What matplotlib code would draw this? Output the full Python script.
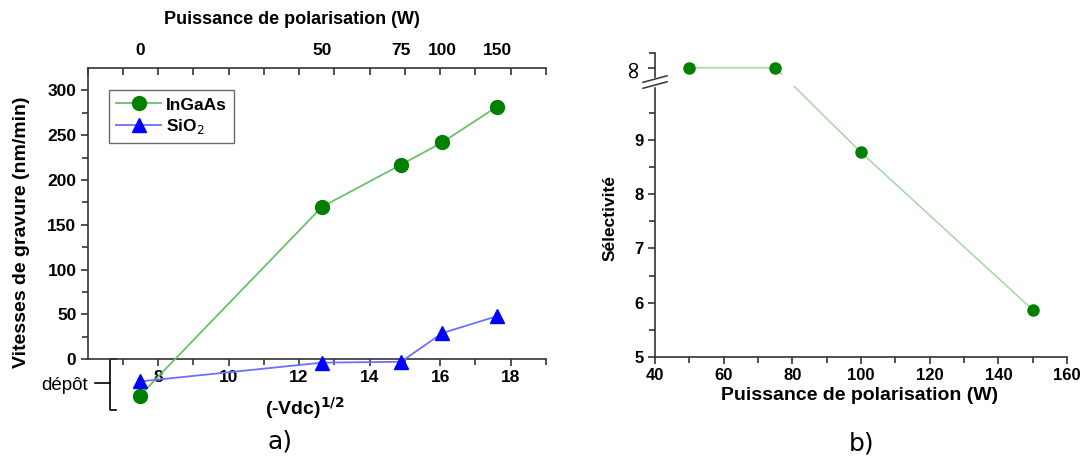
import numpy as np
import matplotlib
matplotlib.use("Agg")
from matplotlib import pyplot as plt
from matplotlib.ticker import FixedLocator, MultipleLocator

plt.rcParams['font.family'] = ['Liberation Sans', 'DejaVu Sans']

##-- data, panel a)
sqrt_vdc = [7.48, 12.65, 14.89, 16.06, 17.62]
power_labels = ['0', '50', '75', '100', '150']
ingaas = [-41, 170, 217, 242, 282]
sio2 = [-25, -4, -3, 29, 48]

##-- data, panel b)
power = [50, 75, 100, 150]
selectivity = [np.inf, np.inf, 8.77, 5.87]

INF_POS = 10.33  # where "infinity" sits on the broken axis

W, H = 1083, 459
fig = plt.figure(figsize=(W / 100, H / 100), dpi=100)

def box(x0, y0, x1, y1):
    # pixel box -> figure fraction
    return [x0 / W, 1 - y1 / H, (x1 - x0) / W, (y1 - y0) / H]

spine_col = '#333333'

########################################################################
# panel a)
ax = fig.add_axes(box(87.5, 68, 546, 412.8))
ax.set_xlim(6, 19)
ax.set_ylim(-60, 325)
ax.plot(sqrt_vdc, ingaas, color='#6cbf6c', lw=1.3, marker='o', ms=10,
        mfc='#008000', mec='#008000', label='InGaAs', clip_on=False, zorder=3)
ax.plot(sqrt_vdc, sio2, color='#6f6fff', lw=1.3, marker='^', ms=10,
        mfc='#0000ff', mec='#0000ff', label='SiO$_2$', clip_on=False, zorder=3)

ax.spines['right'].set_visible(False)
ax.spines['bottom'].set_position(('data', 0))
ax.spines['left'].set_bounds(0, 325)
for s in ['left', 'bottom', 'top']:
    ax.spines[s].set_color(spine_col)
    ax.spines[s].set_linewidth(1.2)

ax.set_xticks([8, 10, 12, 14, 16, 18])
ax.xaxis.set_minor_locator(FixedLocator([7, 9, 11, 13, 15, 17, 19]))
ax.set_yticks([0, 50, 100, 150, 200, 250, 300])
ax.yaxis.set_minor_locator(FixedLocator([25, 75, 125, 175, 225, 275]))
ax.tick_params(which='both', direction='out', color=spine_col, width=1.2)
ax.tick_params(which='major', length=5, labelsize=12.5, pad=3)
ax.tick_params(which='minor', length=4)
for lab in ax.get_xticklabels() + ax.get_yticklabels():
    lab.set_fontweight('bold')

# top axis: tick marks pointing down, labels at measured powers
top = ax.twiny()
top.set_xlim(ax.get_xlim())
for s in top.spines.values():
    s.set_visible(False)
top.set_xticks(sqrt_vdc)
top.set_xticklabels(power_labels, fontweight='bold', fontsize=12.5)
top.xaxis.set_minor_locator(MultipleLocator(1))
top.tick_params(which='major', length=0, pad=7)
top.tick_params(which='minor', direction='in', length=5, width=1.2, color=spine_col)

leg = ax.legend(loc='upper left', bbox_to_anchor=(0.028, 0.96),
                frameon=True, fancybox=False, edgecolor='#444444',
                handlelength=2.6, borderpad=0.4, labelspacing=0.25,
                handletextpad=0.3, prop={'weight': 'bold', 'size': 12.5})
leg.get_frame().set_linewidth(1.0)

# bracket for the deposition region
bx = 6.65
ax.plot([bx + 0.17, bx, bx, bx + 0.17], [0, 0, -57, -57], color='black', lw=1.2, clip_on=False)
ax.plot([bx - 0.45, bx], [-27, -27], color='black', lw=1.2, clip_on=False)

fig.text(65 / W, 1 - 385 / H, 'dépôt', ha='center', va='center', fontsize=13.5)
fig.text(22 / W, 1 - 232 / H, 'Vitesses de gravure (nm/min)', rotation=90,
         ha='center', va='center', fontsize=14, fontweight='bold')
fig.text(292 / W, 1 - 19 / H, 'Puissance de polarisation (W)',
         ha='center', va='center', fontsize=13, fontweight='bold')
fig.text(305 / W, 1 - 408 / H, r'(-Vdc)$^{\mathbf{1/2}}$',
         ha='center', va='center', fontsize=14, fontweight='bold')
fig.text(280 / W, 1 - 441 / H, 'a)', ha='center', va='center', fontsize=18,
         family=['DejaVu Sans'])

########################################################################
# panel b)
bx_ = fig.add_axes(box(655, 53, 1067, 357))
bx_.set_xlim(40, 160)
bx_.set_ylim(5, 10.6)
sel_plot = [INF_POS if np.isinf(v) else v for v in selectivity]
bx_.plot(power, sel_plot, color='#a9daa9', lw=1.2, zorder=1)
bx_.axhspan(10.0, 10.2, color='white', zorder=2, lw=0)
bx_.plot(power, sel_plot, ls='none', marker='o', ms=8, mfc='#008000',
         mec='#008000', zorder=3, clip_on=False)

for s in ['top', 'right']:
    bx_.spines[s].set_visible(False)
for s in ['left', 'bottom']:
    bx_.spines[s].set_color(spine_col)
    bx_.spines[s].set_linewidth(1.2)
bx_.spines['left'].set_bounds(5, 9.96)
bx_.plot([40, 40], [10.15, 10.6], color=spine_col, lw=1.2, clip_on=False)
# break marks
for yc in [10.01, 10.12]:
    bx_.plot([36.5, 43.5], [yc - 0.06, yc + 0.06], color=spine_col, lw=1.1,
             clip_on=False)

bx_.set_xticks([40, 60, 80, 100, 120, 140, 160])
bx_.xaxis.set_minor_locator(FixedLocator([50, 70, 90, 110, 130, 150]))
bx_.set_yticks([5, 6, 7, 8, 9, INF_POS])
bx_.set_yticklabels(['5', '6', '7', '8', '9', '∞'])
bx_.yaxis.set_minor_locator(FixedLocator([5.5, 6.5, 7.5, 8.5, 9.5, 10.6]))
bx_.tick_params(which='both', direction='out', color=spine_col, width=1.2)
bx_.tick_params(which='major', length=5, labelsize=12, pad=3)
bx_.tick_params(which='minor', length=4)
for lab in bx_.get_xticklabels() + bx_.get_yticklabels():
    lab.set_fontweight('bold')
inf_lab = bx_.get_yticklabels()[-1]
inf_lab.set_fontweight('normal')
inf_lab.set_fontsize(18)
inf_lab.set_rotation(90)
inf_lab.set_family(['DejaVu Sans'])
inf_lab.set_va('center')

fig.text(610 / W, 1 - 218 / H, 'Sélectivité', rotation=90, ha='center',
         va='center', fontsize=12.5, fontweight='bold')
fig.text(860 / W, 1 - 395 / H, 'Puissance de polarisation (W)',
         ha='center', va='center', fontsize=14, fontweight='bold')
fig.text(862 / W, 1 - 443 / H, 'b)', ha='center', va='center', fontsize=18,
         family=['DejaVu Sans'])

fig.savefig('out.png', dpi=100)
